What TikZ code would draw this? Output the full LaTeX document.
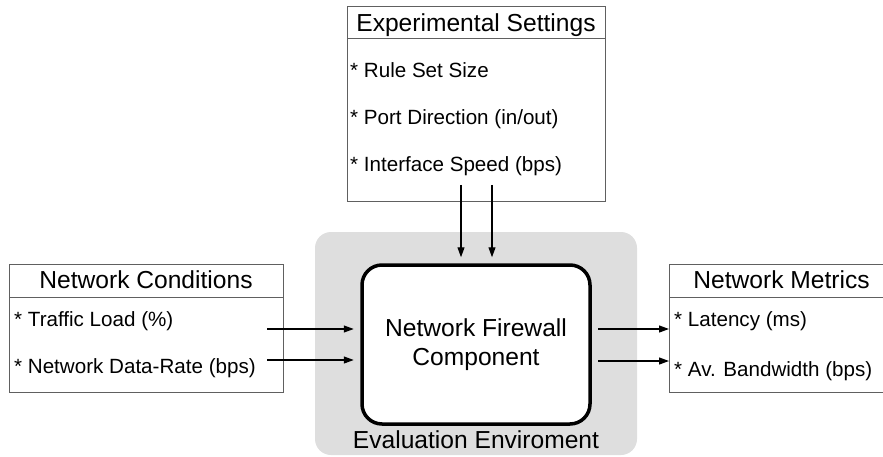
\documentclass[tikz,border=0pt]{standalone}
\usepackage{fontspec}
\setmainfont{Liberation Sans}
\usetikzlibrary{arrows.meta}
\definecolor{envgray}{HTML}{DEDEDE}
\definecolor{boxline}{HTML}{606060}
\tikzset{
  hdr/.style={font=\fontsize{24.6}{28}\selectfont, inner sep=0pt, anchor=base},
  itm/.style={font=\fontsize{20.6}{24}\selectfont, inner sep=0pt, anchor=base west},
  listbox/.style={draw=boxline, line width=1pt, fill=white, inner sep=0pt, outer sep=0pt},
  envbox/.style={fill=envgray, draw=none, rounded corners=16pt, inner sep=0pt},
  fwbox/.style={draw=black, line width=3.5pt, fill=white, rounded corners=20pt, inner sep=0pt,
     align=center, font=\fontsize{24.6}{29}\selectfont},
  arr/.style={-{Triangle[length=10pt,width=7pt]}, line width=1.2pt, black}
}
\begin{document}
\begin{tikzpicture}[x=1pt,y=-1pt]
\useasboundingbox (0,0) rectangle (883,457);
% evaluation environment
\node[envbox, minimum width=322pt, minimum height=223pt] (env) at (476,343.5) {};
\node[fwbox, minimum width=228pt, minimum height=159pt] (fw) at (476,344.5) {Network Firewall\\Component};
\node[hdr] (envlbl) at (476,448) {Evaluation Enviroment};

% experimental settings
\node[listbox, minimum width=258pt, minimum height=195pt] (exp) at (476,104.5) {};
\draw[boxline, line width=1pt] (347,39) -- (605,39);
\node[hdr] (exph) at (476,32) {Experimental Settings};
\node[itm] (exp1) at (350,78) {* Rule Set Size};
\node[itm] (exp2) at (350,125) {* Port Direction (in/out)};
\node[itm] (exp3) at (350,172) {* Interface Speed (bps)};

% network conditions
\node[listbox, minimum width=274pt, minimum height=128pt] (cond) at (146,328) {};
\draw[boxline, line width=1pt] (9,297) -- (283,297);
\node[hdr] (condh) at (146,288) {Network Conditions};
\node[itm] (cond1) at (14,326) {* Traffic Load (\%)};
\node[itm] (cond2) at (14,373) {* Network Data-Rate (bps)};

% network metrics
\node[listbox, minimum width=225pt, minimum height=128pt] (met) at (781.5,328) {};
\draw[boxline, line width=1pt] (669,297) -- (894,297);
\node[hdr] (meth) at (781.5,288) {Network Metrics};
\node[itm] (met1) at (674,326) {* Latency (ms)};
\node[itm] (met2) at (674,376) {* Av. Bandwidth (bps)};

% connectors
\coordinate (t1) at (461,185);
\coordinate (t2) at (492,185);
\coordinate (l1) at (267,329);
\coordinate (l2) at (267,360);
\coordinate (r1) at (598,329);
\coordinate (r2) at (598,361);
\draw[arr, shorten >=6pt] (t1) -- (t1 |- fw.north);
\draw[arr, shorten >=6pt] (t2) -- (t2 |- fw.north);
\draw[arr, shorten >=6.5pt] (l1) -- (l1 -| fw.west);
\draw[arr, shorten >=6.5pt] (l2) -- (l2 -| fw.west);
\draw[arr] (r1) -- (r1 -| met.west);
\draw[arr] (r2) -- (r2 -| met.west);
\end{tikzpicture}
\end{document}
